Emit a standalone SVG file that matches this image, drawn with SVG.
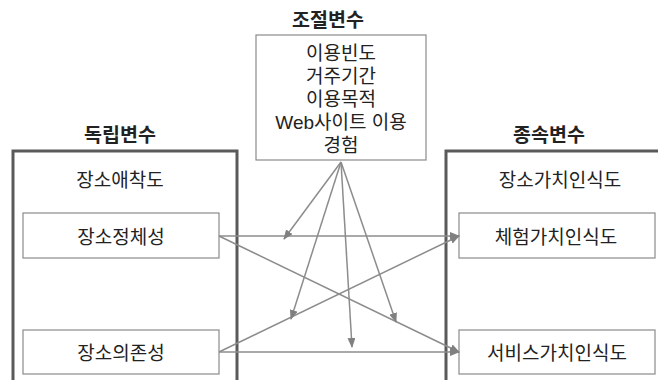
<svg xmlns="http://www.w3.org/2000/svg" width="658" height="380" viewBox="0 0 658 380">
<style>
text{font-family:"Noto Sans CJK KR","Malgun Gothic",sans-serif;font-size:19px;fill:#222;text-anchor:middle}
.h{font-weight:bold;font-size:19.5px}
.m{font-family:"Liberation Sans","Noto Sans CJK KR",sans-serif}
.outer{fill:none;stroke:#5a5a5a;stroke-width:3}
.box{fill:#fff;stroke:#8a8a8a;stroke-width:1.2}
.ca{stroke:#8c8c8c;stroke-width:1.5;fill:none;marker-end:url(#ah)}
</style>
<defs>
<marker id="ah" markerWidth="10" markerHeight="8" refX="9" refY="4" orient="auto" markerUnits="userSpaceOnUse">
<path d="M0,0 L10,4 L0,8 Z" fill="#808080"/>
</marker>
</defs>
<rect width="658" height="380" fill="#fff"/>
<g id="independent">
<text class="h" x="120" y="142">독립변수</text>
<path class="outer" d="M13,385 V151 H237 V385"/>
<text x="120" y="187">장소애착도</text>
</g>
<g id="dependent">
<text class="h" x="549" y="142">종속변수</text>
<path class="outer" d="M446,385 V151 H665"/>
<text x="560" y="187">장소가치인식도</text>
</g>
<g id="moderator">
<text class="h" x="328" y="27">조절변수</text>
<rect class="box" x="256" y="35" width="170" height="125"/>
<text class="m" x="341" y="60"><tspan x="341" y="60">이용빈도</tspan><tspan x="341" y="83">거주기간</tspan><tspan x="341" y="106">이용목적</tspan><tspan x="341" y="129">Web사이트 이용</tspan><tspan x="341" y="152">경험</tspan></text>
</g>
<g id="identity">
<rect class="box" x="23" y="213" width="196" height="45"/>
<text x="121" y="244">장소정체성</text>
</g>
<g id="dependence">
<rect class="box" x="23" y="330" width="196" height="44"/>
<text x="121" y="360">장소의존성</text>
</g>
<g id="experience">
<rect class="box" x="459" y="213" width="196" height="45"/>
<text x="556" y="244">체험가치인식도</text>
</g>
<g id="service">
<rect class="box" x="459" y="330" width="196" height="44"/>
<text x="557" y="360">서비스가치인식도</text>
</g>
<g id="connectors">
<line class="ca" x1="219" y1="236" x2="459" y2="236"/>
<line class="ca" x1="219" y1="236" x2="459" y2="352"/>
<line class="ca" x1="219" y1="352" x2="459" y2="236"/>
<line class="ca" x1="219" y1="352" x2="459" y2="352"/>
<line class="ca" x1="341" y1="162" x2="284" y2="239"/>
<line class="ca" x1="341" y1="162" x2="291" y2="319"/>
<line class="ca" x1="341" y1="162" x2="352" y2="347"/>
<line class="ca" x1="341" y1="162" x2="396" y2="322"/>
</g>
</svg>
